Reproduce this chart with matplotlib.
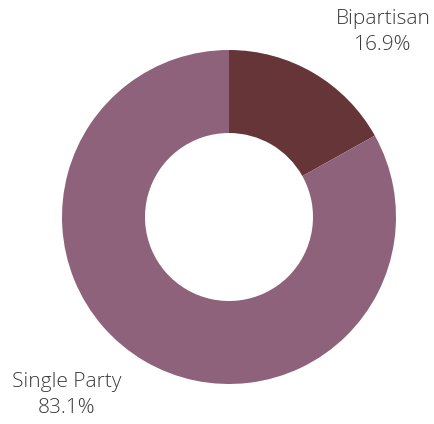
import matplotlib
matplotlib.use("Agg")
import matplotlib.pyplot as plt

labels = ["Bipartisan", "Single Party"]
shares = [16.9, 83.1]
colors = ["#663538", "#8E627B"]

plt.rcParams["font.family"] = ["Open Sans", "DejaVu Sans"]

W, H = 434, 424
fig = plt.figure(figsize=(W / 100, H / 100), dpi=100)

cx, cy, r = 229, 217, 167
ax = fig.add_axes([(cx - r) / W, (H - cy - r) / H, 2 * r / W, 2 * r / H])
ax.pie(shares, colors=colors, startangle=90, counterclock=False, radius=1,
       wedgeprops=dict(width=0.497, edgecolor="none"))
ax.set_xlim(-1, 1)
ax.set_ylim(-1, 1)
ax.set_aspect("equal")
ax.axis("off")

# label positions in pixels from the top-left corner
label_pos = [(383, 32), (67, 395)]
for (px, py), name, v in zip(label_pos, labels, shares):
    fig.text(px / W, 1 - py / H, f"{name}\n{v:.1f}%", ha="center", va="center",
             fontsize=15, fontweight=300, color="#3a3a3a", linespacing=1.4)

fig.savefig("out.png", dpi=100)
